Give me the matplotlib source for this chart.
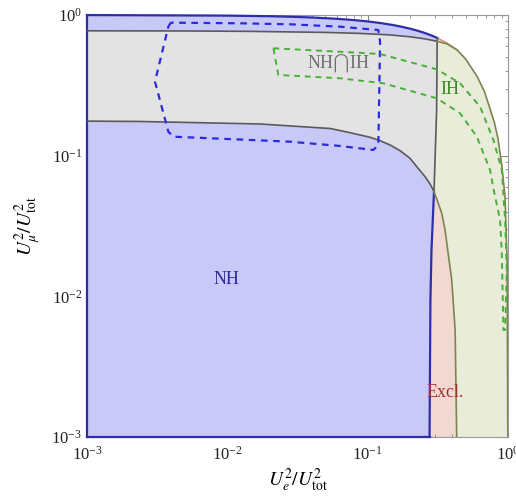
import matplotlib
matplotlib.use("Agg")
import matplotlib.pyplot as plt
from matplotlib.patches import Polygon

# boundary curves (x = Ue^2/Utot^2, y = Umu^2/Utot^2)
# NH region: top edge (unitarity line) and right edge
nh_top_x = [0.313, 0.29, 0.27, 0.25, 0.225, 0.2, 0.175, 0.15, 0.125, 0.1,
            0.08, 0.06, 0.04, 0.03, 0.02, 0.01, 0.001]
nh_top_y = [0.687, 0.71, 0.73, 0.75, 0.775, 0.8, 0.825, 0.85, 0.875, 0.9,
            0.92, 0.94, 0.96, 0.97, 0.98, 0.99, 0.999]
nh_edge_x = [0.276, 0.280, 0.285, 0.297, 0.310, 0.313]
nh_edge_y = [0.001, 0.0094, 0.0214, 0.0555, 0.211, 0.687]

# IH region: upper edge, lower edge, lower-left edge, outer edge
ih_up_x = [0.001, 0.005, 0.0145, 0.05, 0.0883, 0.1444, 0.2004, 0.26, 0.313]
ih_up_y = [0.772, 0.770, 0.765, 0.752, 0.740, 0.722, 0.700, 0.675, 0.650]
ih_low_x = [0.001, 0.0024, 0.0171, 0.054, 0.0749, 0.104, 0.1226, 0.1444, 0.1702,
            0.2004, 0.2298, 0.2565, 0.2785, 0.297]
ih_low_y = [0.176, 0.175, 0.168, 0.156, 0.1457, 0.1351, 0.1278, 0.1191, 0.1085,
            0.0958, 0.0809, 0.0709, 0.0629, 0.0555]
ih_left_x = [0.297, 0.337, 0.356, 0.397, 0.420, 0.431]
ih_left_y = [0.0555, 0.0391, 0.0296, 0.0131, 0.00577, 0.001]
ih_out_x = [0.313, 0.368, 0.434, 0.50, 0.603, 0.68, 0.745, 0.80, 0.849, 0.90, 0.953, 0.985, 0.997]
ih_out_y = [0.650, 0.622, 0.564, 0.485, 0.365, 0.285, 0.215, 0.172, 0.132, 0.088, 0.0509, 0.0181, 0.001]

# unitarity line beyond the NH corner (excluded sliver)
excl_top_x = [0.313, 0.368, 0.434, 0.5]
excl_top_y = [0.687, 0.632, 0.566, 0.5]

# dashed contours
nh_dash_x = [0.00395, 0.00380, 0.00305, 0.00380, 0.00412, 0.0280, 0.0636, 0.1098,
             0.1192, 0.1226, 0.1192, 0.0636, 0.0280, 0.0123, 0.00395]
nh_dash_y = [0.882, 0.826, 0.336, 0.148, 0.1365, 0.1257, 0.1172, 0.1098,
             0.1191, 0.646, 0.782, 0.826, 0.859, 0.873, 0.882]
ih_dash_out_x = [0.0213, 0.0636, 0.1226, 0.3108, 0.4556, 0.6326, 0.7869, 0.9034, 0.9535, 0.9804, 0.9535]
ih_dash_out_y = [0.580, 0.548, 0.528, 0.411, 0.327, 0.223, 0.1293, 0.0791, 0.0349, 0.0154, 0.00577]
ih_dash_in_x = [0.0231, 0.0636, 0.1294, 0.3108, 0.4556, 0.5993, 0.7454, 0.7830, 0.8784, 0.9034, 0.9273]
ih_dash_in_y = [0.3747, 0.3549, 0.3270, 0.2558, 0.2001, 0.1365, 0.0791, 0.0599, 0.0349, 0.0203, 0.00577]

C_BLUE_FILL = "#c9c9f8"
C_GRAY_FILL = "#e3e3e3"
C_GREEN_FILL = "#e9ecd9"
C_PINK_FILL = "#f1d9d2"
C_BLUE = "#2e2ea8"
C_GRAY = "#5a5a5a"
C_OLIVE = "#7d8452"

plt.rcParams["font.family"] = "serif"
plt.rcParams["font.serif"] = ["Liberation Serif", "DejaVu Serif"]
plt.rcParams["mathtext.fontset"] = "stix"

fig = plt.figure(figsize=(5.16, 4.97), dpi=100)
ax = fig.add_axes([87 / 516, 1 - 437 / 497, 421 / 516, 422 / 497])
ax.set_xscale("log")
ax.set_yscale("log")
ax.set_xlim(1e-3, 1)
ax.set_ylim(1e-3, 1)

# polygons
nh_pts = [(1e-3, 1e-3)] + list(zip(nh_edge_x, nh_edge_y)) + list(zip(nh_top_x[1:], nh_top_y[1:]))
ih_pts = (list(zip(ih_up_x, ih_up_y)) + list(zip(ih_out_x[1:], ih_out_y[1:]))
          + list(zip(ih_left_x[::-1], ih_left_y[::-1])) + list(zip(ih_low_x[::-1], ih_low_y[::-1])))
excl_pts = (list(zip(nh_edge_x, nh_edge_y)) + list(zip(excl_top_x[1:], excl_top_y[1:]))
            + [(excl_top_x[-1], 1e-3)])

ax.add_patch(Polygon(excl_pts, closed=True, facecolor=C_PINK_FILL, edgecolor="none", zorder=1))
ax.add_patch(Polygon(ih_pts, closed=True, facecolor=C_GREEN_FILL, edgecolor="none", zorder=2))
ax.add_patch(Polygon(nh_pts, closed=True, facecolor=C_BLUE_FILL, edgecolor="none", zorder=3))
overlap = Polygon(ih_pts, closed=True, facecolor=C_GRAY_FILL, edgecolor="none", zorder=4)
ax.add_patch(overlap)
overlap.set_clip_path(Polygon(nh_pts, closed=True, transform=ax.transData))

# boundary lines
ax.plot(excl_top_x[:3], excl_top_y[:3], color="#d08a70", lw=1.0, zorder=5)
ax.plot(nh_top_x, nh_top_y, color=C_BLUE, lw=1.6, zorder=6, clip_on=False)
ax.plot([1e-3, 1e-3], [1e-3, 0.999], color=C_BLUE, lw=1.6, zorder=6, clip_on=False)
ax.plot([1e-3, nh_edge_x[0]], [1e-3, 1e-3], color=C_BLUE, lw=1.6, zorder=6, clip_on=False)
ax.plot(nh_edge_x[:4], nh_edge_y[:4], color=C_BLUE, lw=1.6, zorder=6)
ax.plot(nh_edge_x[3:], nh_edge_y[3:], color=C_GRAY, lw=1.2, zorder=6)
ax.plot(ih_up_x, ih_up_y, color=C_GRAY, lw=1.2, zorder=6)
ax.plot(ih_low_x, ih_low_y, color=C_GRAY, lw=1.2, zorder=6)
ax.plot(ih_left_x, ih_left_y, color=C_OLIVE, lw=1.2, zorder=6)
ax.plot(ih_out_x, ih_out_y, color=C_OLIVE, lw=1.2, zorder=6)

# dashed contours
ax.plot(nh_dash_x, nh_dash_y, color="#2a2ae0", lw=1.6, ls=(0, (3, 2.5)), zorder=7)
ax.plot(ih_dash_out_x + ih_dash_in_x[::-1] + ih_dash_out_x[:1],
        ih_dash_out_y + ih_dash_in_y[::-1] + ih_dash_out_y[:1],
        color="#4aae3a", lw=1.4, ls=(0, (3, 2.5)), zorder=7)

# labels
ax.text(0.0099, 0.0131, "NH", color="#2a2a9a", fontsize=13, ha="center", va="center", zorder=8)
ax.text(0.0618, 0.4536, "NH$\\bigcap$IH", color="#707070", fontsize=13, ha="center", va="center", zorder=8)
ax.text(0.3867, 0.2931, "IH", color="#3a8a2a", fontsize=13, ha="center", va="center", zorder=8)
ax.text(0.3562, 0.00207, "Excl.", color="#a03030", fontsize=13, ha="center", va="center", zorder=8)

ax.set_xlabel("$U_e^2/U_{\\rm tot}^2$", fontsize=14, labelpad=2)
ax.set_ylabel("$U_\\mu^2/U_{\\rm tot}^2$", fontsize=14, labelpad=6)

for s in ax.spines.values():
    s.set_color("#999999")
    s.set_linewidth(0.8)
    s.set_zorder(5)
ax.tick_params(which="both", direction="in", top=True, right=True, colors="#888888",
               labelcolor="#222222", labelsize=12)
ax.tick_params(which="major", length=5)
ax.tick_params(which="minor", length=2.5)
ax.tick_params(axis="x", which="major", pad=6)

fig.savefig("out.png", dpi=100)
